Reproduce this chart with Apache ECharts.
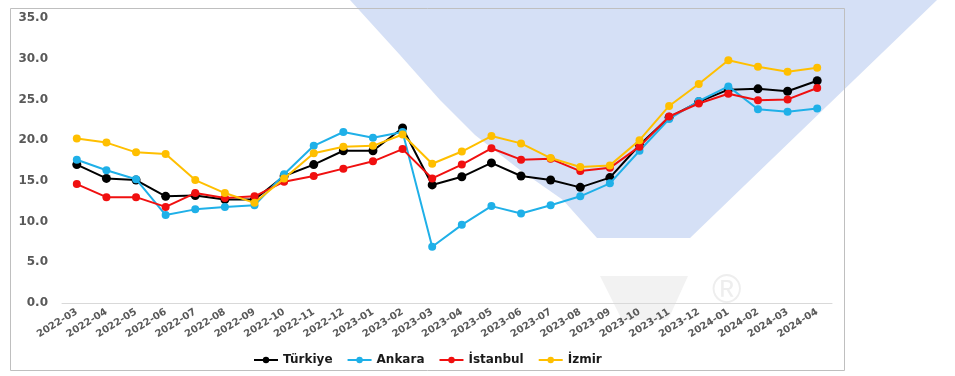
<!DOCTYPE html>
<html>
<head>
<meta charset="utf-8">
<script src="https://cdn.jsdelivr.net/npm/echarts@6/dist/echarts.min.js"></script>
<style>
  html, body { margin: 0; padding: 0; background: #fff; }
  #chart { width: 955px; height: 376px; }
</style>
</head>
<body>
<div id="chart"></div>
<script>
// months on the x axis
var months = ['2022-03', '2022-04', '2022-05', '2022-06', '2022-07', '2022-08', '2022-09',
    '2022-10', '2022-11', '2022-12', '2023-01', '2023-02', '2023-03', '2023-04', '2023-05',
    '2023-06', '2023-07', '2023-08', '2023-09', '2023-10', '2023-11', '2023-12', '2024-01',
    '2024-02', '2024-03', '2024-04'];

var turkiye = [17.0, 15.3, 15.1, 13.1, 13.2, 12.7, 12.7, 15.6, 17.0, 18.7, 18.7, 21.5, 14.5,
    15.5, 17.2, 15.6, 15.1, 14.2, 15.4, 19.4, 22.8, 24.7, 26.2, 26.3, 26.0, 27.3];
var ankara = [17.6, 16.3, 15.2, 10.8, 11.5, 11.8, 12.0, 15.8, 19.3, 21.0, 20.3, 21.0, 6.9,
    9.6, 11.9, 11.0, 12.0, 13.1, 14.7, 18.7, 22.6, 24.8, 26.6, 23.8, 23.5, 23.9];
var istanbul = [14.6, 13.0, 13.0, 11.8, 13.5, 12.9, 13.1, 14.9, 15.6, 16.5, 17.4, 18.9, 15.3,
    17.0, 19.0, 17.6, 17.7, 16.2, 16.6, 19.2, 22.9, 24.5, 25.7, 24.9, 25.0, 26.4];
var izmir = [20.2, 19.7, 18.5, 18.3, 15.1, 13.5, 12.3, 15.3, 18.4, 19.2, 19.3, 20.7, 17.1,
    18.6, 20.5, 19.6, 17.8, 16.7, 16.9, 20.0, 24.2, 26.9, 29.8, 29.0, 28.4, 28.9];

var names = ['Türkiye', 'Ankara', 'İstanbul', 'İzmir'];
var colors = ['#000000', '#1fb0e8', '#f01010', '#ffbf00'];
var values = [turkiye, ankara, istanbul, izmir];

var chart = echarts.init(document.getElementById('chart'));

var series = names.map(function (n, i) {
    return {
        name: n,
        type: 'line',
        data: values[i],
        symbol: 'circle',
        symbolSize: i === 0 ? 9 : 8,
        lineStyle: { width: 2, color: colors[i] },
        itemStyle: { color: colors[i] },
        z: 3 + i
    };
});

var option = {
    animation: false,
    backgroundColor: '#ffffff',
    textStyle: { fontFamily: 'DejaVu Sans' },
    graphic: [
        // faint logo watermark behind the plot
        {
            type: 'polygon', z: -10, silent: true,
            shape: { points: [[350, 0], [400, 55], [440, 100], [475, 135], [520, 170],
                [563, 200], [597, 238], [690, 238], [937, 0]] },
            style: { fill: '#d5e0f6' }
        },
        {
            type: 'polygon', z: -10, silent: true,
            shape: { points: [[600, 276], [688, 276], [668, 320], [622, 320]] },
            style: { fill: '#f2f2f2' }
        },
        {
            type: 'text', z: -10, silent: true, left: 712, top: 272,
            style: { text: '®', fontSize: 40, fill: '#eeeeee', fontFamily: 'Liberation Sans' }
        },
        {
            type: 'rect', z: 0, silent: true,
            shape: { x: 10.5, y: 8.5, width: 834, height: 362 },
            style: { fill: null, stroke: '#bfbfbf', lineWidth: 1 }
        }
    ],
    grid: { left: 62, right: 123, top: 18, bottom: 73 },
    legend: {
        bottom: 5,
        left: 248,
        itemWidth: 24,
        itemHeight: 8,
        itemGap: 14,
        textStyle: { fontSize: 12, fontWeight: 'bold', color: '#1a1a1a', fontFamily: 'DejaVu Sans' },
        data: names
    },
    xAxis: {
        type: 'category',
        data: months,
        axisLine: { lineStyle: { color: '#d9d9d9' } },
        axisTick: { show: false },
        axisLabel: {
            rotate: 32, fontSize: 10, fontWeight: 'bold', color: '#595959',
            interval: 0, margin: 8, fontFamily: 'DejaVu Sans'
        }
    },
    yAxis: {
        type: 'value',
        min: 0,
        max: 35,
        interval: 5,
        splitLine: { show: false },
        axisLine: { show: false },
        axisLabel: {
            fontSize: 12, fontWeight: 'bold', color: '#595959', margin: 14,
            fontFamily: 'DejaVu Sans',
            formatter: function (v) { return v.toFixed(1); }
        }
    },
    series: series
};

chart.setOption(option);
</script>
</body>
</html>
